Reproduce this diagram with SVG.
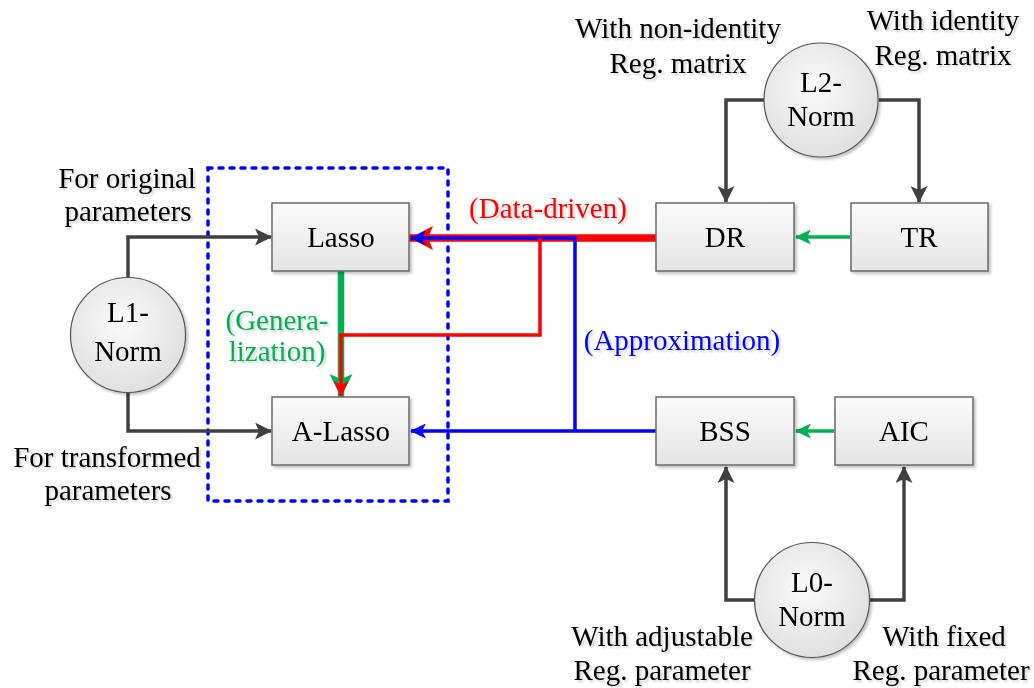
<svg xmlns="http://www.w3.org/2000/svg" width="1034" height="688" viewBox="0 0 1034 688">
<defs>
<style>
text{font-family:"Liberation Serif","Times New Roman",serif;font-size:29px;text-anchor:middle;fill:#000}
.box{fill:url(#gBox);stroke:#6a6a6a;stroke-width:1.5}
.cir{fill:url(#gCir);stroke:#555;stroke-width:1.2}
.dk{fill:none;stroke:#404040;stroke-width:3.5}
.gr{fill:none;stroke:#00b050;stroke-width:3.5}
.bl{fill:none;stroke:#0000ff;stroke-width:3.5}
.rd{fill:none;stroke:#ff0000;stroke-width:3.5}
.lbl{filter:url(#tsh)}
</style>
<linearGradient id="gBox" x1="0" y1="0" x2="0" y2="1">
<stop offset="0" stop-color="#fcfcfc"/>
<stop offset="1" stop-color="#e4e4e4"/>
</linearGradient>
<radialGradient id="gCir" cx="0.45" cy="0.4" r="0.65">
<stop offset="0" stop-color="#fbfbfb"/>
<stop offset="1" stop-color="#dedede"/>
</radialGradient>
<filter id="sh" x="-20%" y="-20%" width="140%" height="140%">
<feDropShadow dx="2" dy="2" stdDeviation="1.5" flood-color="#000" flood-opacity="0.25"/>
</filter>
<filter id="tsh" x="-10%" y="-20%" width="120%" height="150%">
<feDropShadow dx="2" dy="2" stdDeviation="1" flood-color="#000" flood-opacity="0.18"/>
</filter>
<marker id="aDk" markerUnits="userSpaceOnUse" markerWidth="17" markerHeight="17" viewBox="0 0 17 17" refX="16" refY="8.5" orient="auto">
<path d="M0,0 L17,8.5 L0,17 L4,8.5 z" fill="#404040"/>
</marker>
<marker id="aGr" markerUnits="userSpaceOnUse" markerWidth="16" markerHeight="15" viewBox="0 0 16 15" refX="15" refY="7.5" orient="auto">
<path d="M0,0 L16,7.5 L0,15 L4,7.5 z" fill="#00b050"/>
</marker>
<marker id="aGrBig" markerUnits="userSpaceOnUse" markerWidth="23" markerHeight="23" viewBox="0 0 23 23" refX="22" refY="11.5" orient="auto">
<path d="M0,0 L23,11.5 L0,23 L5,11.5 z" fill="#00b050"/>
</marker>
<marker id="aRd" markerUnits="userSpaceOnUse" markerWidth="16" markerHeight="15" viewBox="0 0 16 15" refX="15" refY="7.5" orient="auto">
<path d="M0,0 L16,7.5 L0,15 L4,7.5 z" fill="#ff0000"/>
</marker>
<marker id="aRdBig" markerUnits="userSpaceOnUse" markerWidth="23" markerHeight="24" viewBox="0 0 23 24" refX="22" refY="12" orient="auto">
<path d="M0,0 L23,12 L0,24 L5,12 z" fill="#ff0000"/>
</marker>
<marker id="aBl" markerUnits="userSpaceOnUse" markerWidth="16" markerHeight="15" viewBox="0 0 16 15" refX="15" refY="7.5" orient="auto">
<path d="M0,0 L16,7.5 L0,15 L4,7.5 z" fill="#0000ff"/>
</marker>
</defs>
<rect width="1034" height="688" fill="#fff"/>

<g id="group-box">
<rect x="208" y="168" width="240" height="333" fill="none" stroke="#0000ff" stroke-width="3.5" stroke-linecap="round" stroke-dasharray="4 7"/>
</g>

<g id="connectors">
<path class="dk" d="M128,277 V237 H271" marker-end="url(#aDk)"/>
<path class="dk" d="M128,392 V431 H271" marker-end="url(#aDk)"/>
<path class="dk" d="M764,100 H726 V202" marker-end="url(#aDk)"/>
<path class="dk" d="M879,100 H919 V202" marker-end="url(#aDk)"/>
<path class="dk" d="M755,600 H726 V467" marker-end="url(#aDk)"/>
<path class="dk" d="M870,600 H904 V467" marker-end="url(#aDk)"/>
<path class="gr" d="M850,237 H796" marker-end="url(#aGr)"/>
<path class="gr" d="M834,431 H796" marker-end="url(#aGr)"/>
<path fill="none" stroke="#00b050" stroke-width="6.5" stroke-linecap="round" d="M341,272 V396" marker-end="url(#aGrBig)"/>
<path fill="none" stroke="#ff0000" stroke-width="7.5" stroke-linecap="round" d="M656,238 H411" marker-end="url(#aRdBig)"/>
<path class="bl" d="M656,431 H411" marker-end="url(#aBl)"/>
<path class="bl" d="M575,431 V238 H411" marker-end="url(#aBl)"/>
<path class="rd" stroke-width="3" d="M540,238 V335 H341 V396" marker-end="url(#aRd)"/>
</g>

<g id="node-lasso" filter="url(#sh)">
<rect class="box" x="272" y="203" width="137" height="68"/>
<text x="341" y="247">Lasso</text>
</g>
<g id="node-alasso" filter="url(#sh)">
<rect class="box" x="272" y="397" width="137" height="68"/>
<text x="341" y="441">A-Lasso</text>
</g>
<g id="node-dr" filter="url(#sh)">
<rect class="box" x="656" y="203" width="138" height="68"/>
<text x="725" y="247">DR</text>
</g>
<g id="node-tr" filter="url(#sh)">
<rect class="box" x="851" y="203" width="137" height="68"/>
<text x="919" y="247">TR</text>
</g>
<g id="node-bss" filter="url(#sh)">
<rect class="box" x="656" y="397" width="138" height="68"/>
<text x="725" y="441">BSS</text>
</g>
<g id="node-aic" filter="url(#sh)">
<rect class="box" x="835" y="397" width="138" height="68"/>
<text x="904" y="441">AIC</text>
</g>
<g id="node-l1" filter="url(#sh)">
<circle class="cir" cx="128" cy="335" r="57.5"/>
<text x="128" y="322">L1-</text>
<text x="128" y="361">Norm</text>
</g>
<g id="node-l2" filter="url(#sh)">
<circle class="cir" cx="821" cy="100" r="57"/>
<text x="821" y="92">L2-</text>
<text x="821" y="126">Norm</text>
</g>
<g id="node-l0" filter="url(#sh)">
<circle class="cir" cx="812" cy="600" r="57.5"/>
<text x="812" y="592">L0-</text>
<text x="812" y="626">Norm</text>
</g>

<g id="labels" class="lbl">
<text x="127" y="188">For original</text>
<text x="128" y="221">parameters</text>
<text x="107" y="467">For transformed</text>
<text x="108" y="500">parameters</text>
<text x="678" y="38">With non-identity</text>
<text x="678" y="73">Reg. matrix</text>
<text x="943" y="30">With identity</text>
<text x="943" y="65">Reg. matrix</text>
<text x="662" y="646">With adjustable</text>
<text x="662" y="680">Reg. parameter</text>
<text x="944" y="646">With fixed</text>
<text x="941" y="680">Reg. parameter</text>
<text x="548" y="218" style="fill:#ff0000">(Data-driven)</text>
<text x="682" y="350" style="fill:#0000ff">(Approximation)</text>
<text x="277" y="330" style="fill:#00b050">(Genera-</text>
<text x="277" y="361" style="fill:#00b050">lization)</text>
</g>
</svg>
